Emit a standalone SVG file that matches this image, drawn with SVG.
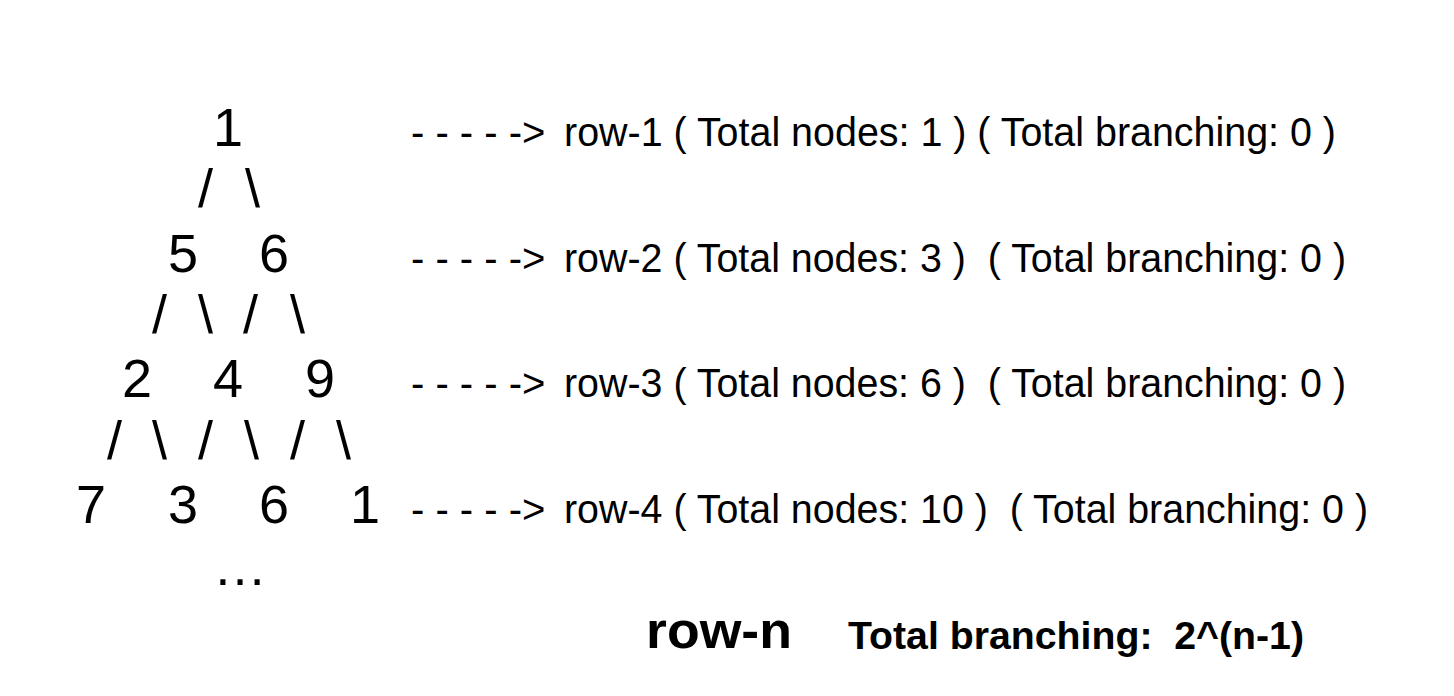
<svg xmlns="http://www.w3.org/2000/svg" width="1454" height="696" viewBox="0 0 1454 696">
  <style>
    .d { font-family: "Liberation Sans", Arial, sans-serif; font-size: 54px; fill: #000; text-anchor: middle; }
    .s { font-family: "Liberation Sans", Arial, sans-serif; font-size: 54px; fill: #000; }
    .t { font-family: "Liberation Sans", Arial, sans-serif; font-size: 40px; fill: #000; white-space: pre; }
    .b { font-family: "Liberation Sans", Arial, sans-serif; font-weight: bold; fill: #000; white-space: pre; }
  </style>
  <rect width="1454" height="696" fill="#fff"/>
  <g id="tree-row-1"><text class="d" x="228" y="146">1</text></g>
  <g id="tree-row-2"><text class="d" x="183 274" y="272">56</text></g>
  <g id="tree-row-3"><text class="d" x="137 228 320" y="397">249</text></g>
  <g id="tree-row-4"><text class="d" x="91 183 274 365" y="523">7361</text></g>
  <g id="tree-more"><text class="d" x="240" y="585">…</text></g>
  <g id="connectors">
    <text class="s" x="198 245" y="207">/\</text>
    <text class="s" x="152 198 243 290" y="333">/\/\</text>
    <text class="s" x="107 152 198 244 290 336" y="459">/\/\/\</text>
  </g>
  <g id="label-row-1">
    <text class="t" x="411" y="146">- - - - -&gt;</text>
    <text class="t" x="564" y="146" textLength="772" lengthAdjust="spacingAndGlyphs">row-1 ( Total nodes: 1 ) ( Total branching: 0 )</text>
  </g>
  <g id="label-row-2">
    <text class="t" x="411" y="272">- - - - -&gt;</text>
    <text class="t" x="564" y="272" textLength="782" lengthAdjust="spacingAndGlyphs">row-2 ( Total nodes: 3 )  ( Total branching: 0 )</text>
  </g>
  <g id="label-row-3">
    <text class="t" x="411" y="397">- - - - -&gt;</text>
    <text class="t" x="564" y="397" textLength="782" lengthAdjust="spacingAndGlyphs">row-3 ( Total nodes: 6 )  ( Total branching: 0 )</text>
  </g>
  <g id="label-row-4">
    <text class="t" x="411" y="523">- - - - -&gt;</text>
    <text class="t" x="564" y="523" textLength="804" lengthAdjust="spacingAndGlyphs">row-4 ( Total nodes: 10 )  ( Total branching: 0 )</text>
  </g>
  <g id="summary">
    <text class="b" x="646" y="648" font-size="52" textLength="146" lengthAdjust="spacingAndGlyphs">row-n</text>
    <text class="b" x="848" y="649" font-size="38" textLength="456" lengthAdjust="spacingAndGlyphs">Total branching:  2^(n-1)</text>
  </g>
</svg>
